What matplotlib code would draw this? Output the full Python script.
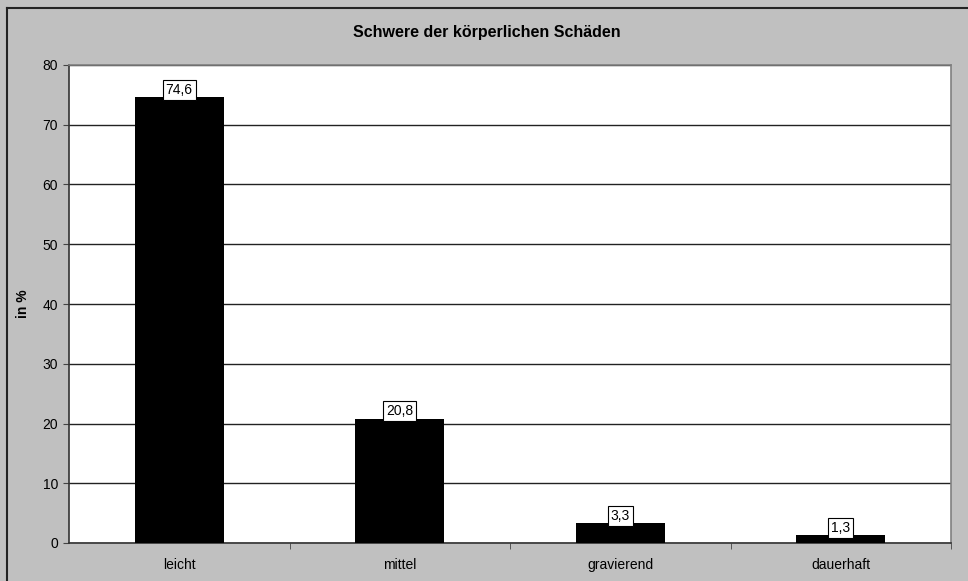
import matplotlib
matplotlib.use("Agg")
import matplotlib.pyplot as plt
from matplotlib.lines import Line2D

categories = ["leicht", "mittel", "gravierend", "dauerhaft"]
values = [74.6, 20.8, 3.3, 1.3]
labels = ["74,6", "20,8", "3,3", "1,3"]
yticks = [0, 10, 20, 30, 40, 50, 60, 70, 80]

plt.rcParams['font.family'] = ['Liberation Sans', 'DejaVu Sans']

fig = plt.figure(figsize=(9.68, 5.81), dpi=100)
fig.patch.set_facecolor("#c0c0c0")
# outer frame line (only left and top visible in the original)
fx, fy = 6.5/968, 1 - 7.5/581
fig.lines.append(Line2D([fx, fx], [0, fy], transform=fig.transFigure, color="#222222", linewidth=1.5))
fig.lines.append(Line2D([fx, 1], [fy, fy], transform=fig.transFigure, color="#222222", linewidth=1.5))

ax = fig.add_axes([69/968, 1 - 543/581, (951 - 69)/968, (543 - 65)/581])
ax.set_facecolor("white")

x = range(len(categories))
ax.bar(x, values, width=0.405, color="black", zorder=3)

for xi, v, lab in zip(x, values, labels):
    ax.text(xi, v + 0.1, lab, ha="center", va="bottom", fontsize=10, zorder=4,
            bbox=dict(boxstyle="square,pad=0.22", facecolor="white", edgecolor="black", linewidth=0.8))

ax.set_xlim(-0.5, len(categories) - 0.5)
ax.set_ylim(0, 80)
ax.set_yticks(yticks)
ax.yaxis.grid(True, color="#222222", linewidth=1, zorder=0)
ax.set_axisbelow(True)

ax.set_xticks(list(x))
ax.set_xticklabels(categories, fontsize=10)
ax.tick_params(axis="x", length=0, pad=10.5)
ax.set_xticks([0.5, 1.5, 2.5, 3.5], minor=True)
ax.tick_params(axis="x", which="minor", length=4, direction="out", color="#444444")
ax.tick_params(axis="y", length=4, direction="out", labelsize=10, pad=4, color="#444444")

for side in ["top", "right"]:
    ax.spines[side].set_color("#808080")
    ax.spines[side].set_linewidth(1.2)
for side in ["left", "bottom"]:
    ax.spines[side].set_color("#333333")
    ax.spines[side].set_linewidth(1.2)

ax.set_ylabel("in %", fontsize=10, fontweight="bold", labelpad=9)
fig.text(0.503, 1 - 33/581, "Schwere der körperlichen Schäden", ha="center", va="center",
         fontsize=11.5, fontweight="bold")

fig.savefig("out.png", dpi=100, facecolor=fig.get_facecolor())
